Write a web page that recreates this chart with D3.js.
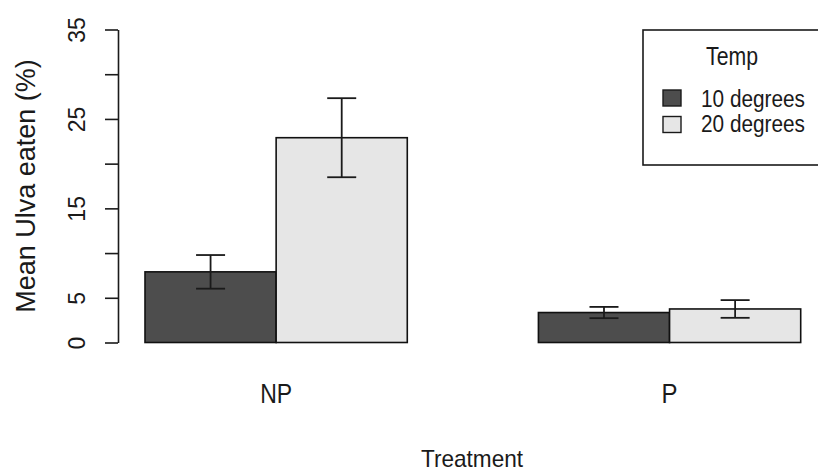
<!DOCTYPE html>
<html lang="en">
<head>
    <meta charset="UTF-8">
    <title>Mean Ulva eaten</title>
    <script src="https://cdn.jsdelivr.net/npm/d3@7/dist/d3.min.js"></script>
    <style>
        body { margin: 0; background: #fff; }
        #chart { width: 818px; height: 473px; }
        text { font-family: "Liberation Sans", Arial, sans-serif; fill: #1a1a1a; }
    </style>
</head>
<body>
<div id="chart"></div>
<script type="text/javascript">
    // data
    var treatments = ['NP', 'P'];
    var temps = ['10 degrees', '20 degrees'];
    var means = [[7.9, 22.9], [3.35, 3.75]];   // per treatment: [10, 20]
    var errs = [[1.88, 4.42], [0.63, 0.99]];
    var yTicks = [0, 5, 10, 15, 20, 25, 30, 35];
    var yLabels = [0, 5, 15, 25, 35];
    var colors = ['#4d4d4d', '#e6e6e6'];

    var svgw = 818, svgh = 473;
    var svg = d3.select('#chart')
        .append('svg')
        .attr('width', svgw)
        .attr('height', svgh);

    var y_scale = d3.scaleLinear()
        .domain([0, 35])
        .range([342.5, 29.5]);

    var x_group = d3.scaleBand()
        .domain(treatments)
        .range([145, 800.7])
        .paddingInner(1 / 3)
        .paddingOuter(0);

    var x_sub = d3.scaleBand()
        .domain(temps)
        .range([0, x_group.bandwidth()]);

    // bars
    var groups = svg.selectAll('g.grp')
        .data(treatments)
        .enter()
        .append('g')
        .attr('class', 'grp')
        .attr('transform', function (d) {
            return 'translate(' + x_group(d) + ',0)';
        });

    groups.selectAll('rect')
        .data(function (d, i) {
            return temps.map(function (t, j) {
                return {t: t, j: j, v: means[i][j], e: errs[i][j]};
            });
        })
        .enter()
        .append('rect')
        .attr('x', function (d) { return x_sub(d.t); })
        .attr('y', function (d) { return y_scale(d.v); })
        .attr('width', x_sub.bandwidth())
        .attr('height', function (d) { return y_scale(0) - y_scale(d.v); })
        .attr('fill', function (d) { return colors[d.j]; })
        .attr('stroke', '#111')
        .attr('stroke-width', 1.6);

    // error bars
    var cap = 14.5;
    var eb = groups.selectAll('g.err')
        .data(function (d, i) {
            return temps.map(function (t, j) {
                return {t: t, v: means[i][j], e: errs[i][j]};
            });
        })
        .enter()
        .append('g')
        .attr('class', 'err')
        .attr('stroke', '#1a1a1a')
        .attr('stroke-width', 1.8);

    eb.append('line')
        .attr('x1', function (d) { return x_sub(d.t) + x_sub.bandwidth() / 2; })
        .attr('x2', function (d) { return x_sub(d.t) + x_sub.bandwidth() / 2; })
        .attr('y1', function (d) { return y_scale(d.v + d.e); })
        .attr('y2', function (d) { return y_scale(d.v - d.e); });
    [1, -1].forEach(function (s) {
        eb.append('line')
            .attr('x1', function (d) { return x_sub(d.t) + x_sub.bandwidth() / 2 - cap; })
            .attr('x2', function (d) { return x_sub(d.t) + x_sub.bandwidth() / 2 + cap; })
            .attr('y1', function (d) { return y_scale(d.v + s * d.e); })
            .attr('y2', function (d) { return y_scale(d.v + s * d.e); });
    });

    // y axis
    var y_axis = d3.axisLeft(y_scale)
        .tickValues(yTicks)
        .tickSize(13)
        .tickSizeOuter(0)
        .tickFormat(function (d) { return yLabels.indexOf(d) >= 0 ? d : ''; });

    var ya = svg.append('g')
        .attr('transform', 'translate(118,0)')
        .call(y_axis);
    ya.attr('font-size', null).attr('font-family', null);
    ya.select('.domain').attr('stroke', '#1a1a1a').attr('stroke-width', 1.6);
    ya.selectAll('.tick line').attr('stroke', '#1a1a1a').attr('stroke-width', 1.6);
    ya.selectAll('.tick text')
        .attr('x', null)
        .attr('dy', null)
        .attr('text-anchor', 'middle')
        .attr('transform', 'translate(-33,0) rotate(-90)')
        .style('font-size', '23px')
        .attr('fill', '#1a1a1a');

    svg.append('text')
        .attr('transform', 'translate(35,186) rotate(-90)')
        .attr('text-anchor', 'middle')
        .attr('font-size', 27)
        .text('Mean Ulva eaten (%)');

    // category labels
    svg.selectAll('text.cat')
        .data(treatments)
        .enter()
        .append('text')
        .attr('class', 'cat')
        .attr('x', function (d) { return x_group(d) + x_group.bandwidth() / 2; })
        .attr('y', 403)
        .attr('text-anchor', 'middle')
        .attr('font-size', 27)
        .attr('textLength', function (d) { return d.length === 2 ? 32 : 16; })
        .attr('lengthAdjust', 'spacingAndGlyphs')
        .text(function (d) { return d; });

    svg.append('text')
        .attr('x', 472)
        .attr('y', 467)
        .attr('text-anchor', 'middle')
        .attr('font-size', 24)
        .attr('textLength', 102)
        .attr('lengthAdjust', 'spacingAndGlyphs')
        .text('Treatment');

    // legend
    var lg = svg.append('g');
    lg.append('rect')
        .attr('x', 643).attr('y', 30)
        .attr('width', 200).attr('height', 135)
        .attr('fill', '#fff')
        .attr('stroke', '#1a1a1a')
        .attr('stroke-width', 1.6);
    lg.append('text')
        .attr('x', 732).attr('y', 65)
        .attr('text-anchor', 'middle')
        .attr('font-size', 25)
        .attr('textLength', 52)
        .attr('lengthAdjust', 'spacingAndGlyphs')
        .text('Temp');
    temps.forEach(function (t, j) {
        lg.append('rect')
            .attr('x', 663).attr('y', 90 + j * 26.5)
            .attr('width', 18).attr('height', 16)
            .attr('fill', colors[j])
            .attr('stroke', '#1a1a1a')
            .attr('stroke-width', 1.4);
        lg.append('text')
            .attr('x', 701).attr('y', 106.5 + j * 25)
            .attr('font-size', 23)
            .attr('textLength', 104)
            .attr('lengthAdjust', 'spacingAndGlyphs')
            .text(t);
    });
</script>
</body>
</html>
